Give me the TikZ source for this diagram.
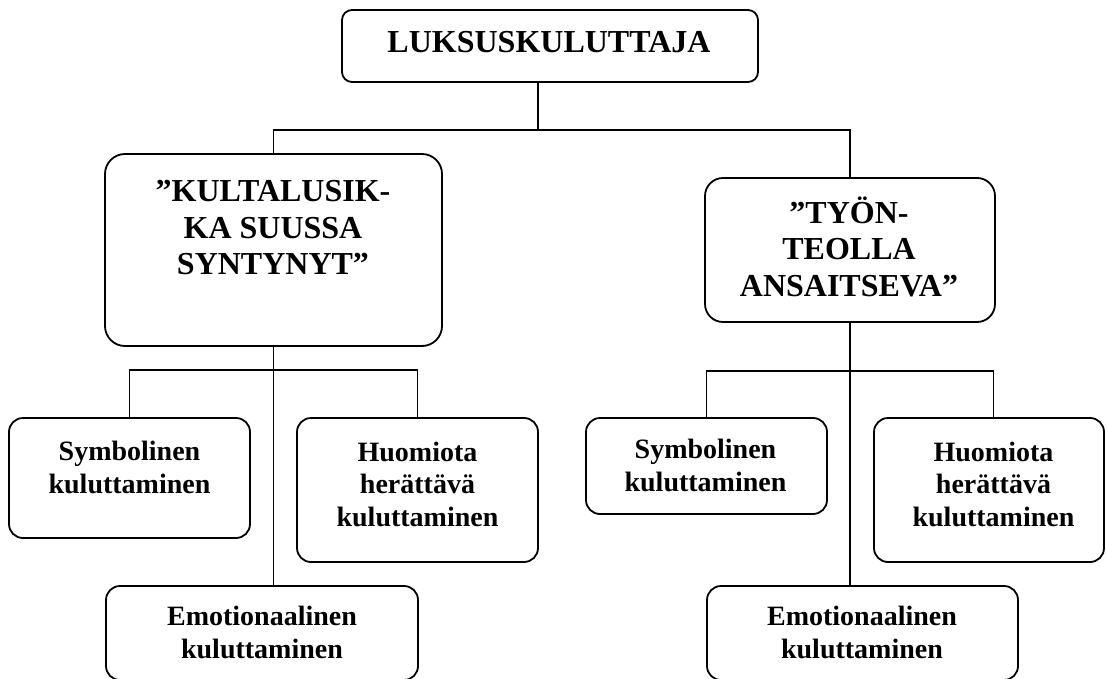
\documentclass[tikz,border=0pt]{standalone}
\usepackage{fontspec}
\setmainfont{Liberation Serif}
\usetikzlibrary{fit}
\begin{document}
\begin{tikzpicture}[x=1pt,y=-1pt,
  box/.style={draw, line width=1.8pt, rounded corners=#1, inner sep=0pt},
  box/.default=14pt,
  big/.style={font=\bfseries\fontsize{32}{36.5}\selectfont, align=center, inner sep=0pt},
  small/.style={font=\bfseries\fontsize{28}{32.5}\selectfont, align=center, inner sep=0pt},
  link/.style={line width=1.8pt}]
\useasboundingbox (0,0) rectangle (1107,679);
\clip (0,0) rectangle (1107,679);

% boxes
\node[box=10pt, fit={(342,10) (758,82)}] (top) {};
\node[box=20pt, fit={(105,154) (442,346)}] (lbig) {};
\node[box=18pt, fit={(705,178) (995,322)}] (rbig) {};
\node[box, fit={(9,418) (250,538)}] (lsym) {};
\node[box, fit={(297,418) (538,562)}] (lhuo) {};
\node[box, fit={(106,586) (418,680)}] (lemo) {};
\node[box, fit={(586,418) (827,514)}] (rsym) {};
\node[box, fit={(874,418) (1104,562)}] (rhuo) {};
\node[box, fit={(707,586) (1018,680)}] (remo) {};

% texts
\node[big, anchor=base] at (549,53) {LUKSUSKULUTTAJA};
\node[big, anchor=north] at (273,180.3) {”KULTALUSIK-\\KA SUUSSA\\SYNTYNYT”};
\node[big, anchor=north] at (849,196.4) {”TYÖN-\\TEOLLA\\ANSAITSEVA”};
\node[small, anchor=north] at (129.5,441) {Symbolinen\\kuluttaminen};
\node[small, anchor=north] at (417.5,441.5) {Huomiota\\herättävä\\kuluttaminen};
\node[small, anchor=north] at (262,606) {Emotionaalinen\\kuluttaminen};
\node[small, anchor=north] at (705.5,439) {Symbolinen\\kuluttaminen};
\node[small, anchor=north] at (993.5,441.5) {Huomiota\\herättävä\\kuluttaminen};
\node[small, anchor=north] at (862,606) {Emotionaalinen\\kuluttaminen};

% connectors
\coordinate (j0) at (538,130);
\draw[link] (top.south -| j0) -- (j0);
\draw[link] (lbig.north) |- (j0) -| (rbig.north);

\coordinate (lj) at (274,370);
\draw[link] (lbig.south) -- (lbig.south |- lemo.north);
\draw[link] (lsym.north) |- (lj) -| (lhuo.north);

\coordinate (rj) at (851,371);
\draw[link] (rbig.south) -- (rbig.south |- remo.north);
\draw[link] (rsym.north) |- (rj) -| ([xshift=4.5pt]rhuo.north);
\end{tikzpicture}
\end{document}
